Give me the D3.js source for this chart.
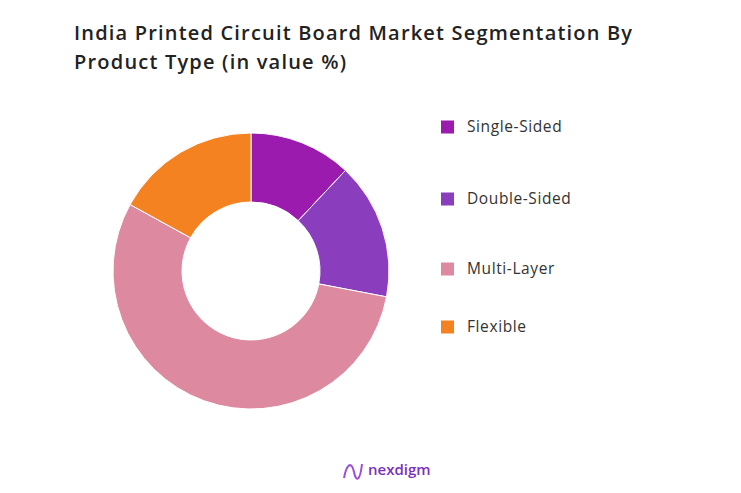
<!DOCTYPE html><html><head><meta charset="utf-8"><script src="https://cdn.jsdelivr.net/npm/d3@7"></script>
<style>body{margin:0;background:#fff;font-family:"Open Sans",sans-serif}</style></head><body><svg id="c" width="741" height="493"></svg><script>
const categories=["Single-Sided","Double-Sided","Multi-Layer","Flexible"];
const values=[12,16,55,17];
const colors=["#9B1BAE","#8A3EBE","#DD89A0","#F58220"];
const legendY=[127,199,269,327];
const svg=d3.select("#c");
svg.append("text").attr("x",74).attr("y",40).attr("font-size",20).attr("font-weight",600).attr("fill","#222").attr("textLength",558).attr("lengthAdjust","spacing").text("India Printed Circuit Board Market Segmentation By");
svg.append("text").attr("x",74).attr("y",69).attr("font-size",20).attr("font-weight",600).attr("fill","#222").attr("textLength",272).attr("lengthAdjust","spacing").text("Product Type (in value %)");
const pie=d3.pie().sort(null).value(d=>d)(values);
const arc=d3.arc().innerRadius(69).outerRadius(138);
const g=svg.append("g").attr("transform","translate(251,271)");
g.selectAll("path").data(pie).join("path").attr("d",arc).attr("fill",(d,i)=>colors[i]).attr("stroke","#fff").attr("stroke-width",1);
const lg=svg.selectAll("g.l").data(categories).join("g").attr("transform",(d,i)=>`translate(441,${legendY[i]})`);
lg.append("rect").attr("x",0).attr("y",-6.5).attr("width",13).attr("height",13).attr("fill",(d,i)=>colors[i]);
lg.append("text").attr("x",26).attr("y",5).attr("font-size",15.5).attr("letter-spacing",0.6).attr("fill","#333").text(d=>d);
const lo=svg.append("g").attr("transform","translate(344,470)");
lo.append("path").attr("d","M0,8 C3,-8 8,-8 10,2 C12,12 16,12 18,-6").attr("fill","none").attr("stroke","#9a4fd8").attr("stroke-width",2);
lo.append("text").attr("x",24).attr("y",5).attr("font-size",15).attr("font-weight",600).attr("fill","#7b2fc0").text("nexdigm");
</script></body></html>
